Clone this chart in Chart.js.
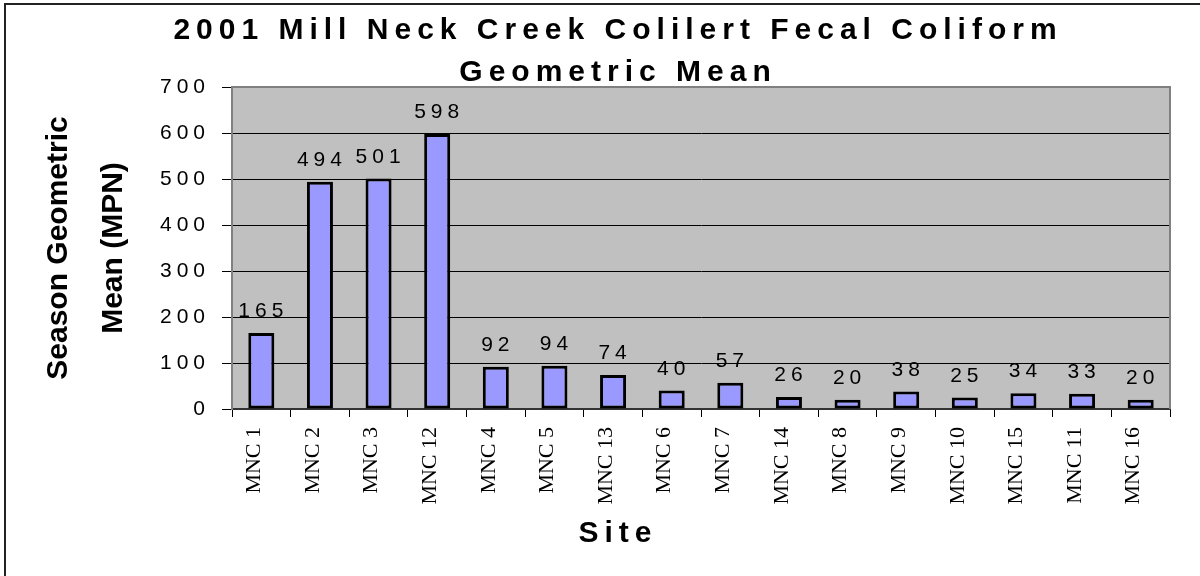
<!DOCTYPE html>
<html>
<head>
<meta charset="utf-8">
<script src="https://cdn.jsdelivr.net/npm/chart.js@4/dist/chart.umd.min.js"></script>
<style>
  html, body { margin: 0; padding: 0; background: #fff; }
  #wrap { width: 1200px; height: 576px; }
</style>
</head>
<body>
<div id="wrap"><canvas id="chart" width="1200" height="576"></canvas></div>
<script>
// values
const sites = ['MNC 1', 'MNC 2', 'MNC 3', 'MNC 12', 'MNC 4', 'MNC 5', 'MNC 13', 'MNC 6',
  'MNC 7', 'MNC 14', 'MNC 8', 'MNC 9', 'MNC 10', 'MNC 15', 'MNC 11', 'MNC 16']
const geoMean = [165, 494, 501, 598, 92, 94, 74, 40, 57, 26, 20, 38, 25, 34, 33, 20]
const titleLines = ['2001 Mill Neck Creek Colilert Fecal Coliform', 'Geometric Mean']
const yTitleLines = ['Season Geometric', 'Mean (MPN)']
const xTitle = 'Site'

const sans = 'Arial, "Liberation Sans", sans-serif'
const serif = '"Times New Roman", "Liberation Serif", serif'

// canvas letterSpacing only for the pieces that are spaced out in the original
function spaced(obj, method, ls) {
  const key = '_ls_' + method
  if (obj[key]) return
  const orig = obj[method]
  obj[method] = function(...args) {
    const c = this.ctx
    const prev = c.letterSpacing
    c.letterSpacing = ls
    const r = orig.apply(this, args)
    c.letterSpacing = prev
    return r
  }
  obj[key] = true
}

const spacingPlugin = {
  id: 'spacing',
  afterLayout(chart) {
    chart.boxes.forEach(b => {
      if (b === chart.scales.y) spaced(b, 'drawLabels', '5px')
      else if (!b.id && b.options && b.options.text) spaced(b, 'draw', '6px')
    })
  }
}

const plotArea = {
  id: 'plotArea',
  beforeDraw(chart) {
    const { ctx, chartArea: a } = chart
    ctx.save()
    ctx.fillStyle = '#C0C0C0'
    ctx.fillRect(a.left, a.top, a.right - a.left, a.bottom - a.top)
    ctx.restore()
  },
  afterDatasetsDraw(chart) {
    const { ctx, chartArea: a } = chart
    ctx.save()
    ctx.strokeStyle = '#808080'
    ctx.lineWidth = 2
    ctx.beginPath()
    ctx.moveTo(a.left, a.top)
    ctx.lineTo(a.right, a.top)
    ctx.lineTo(a.right, a.bottom)
    ctx.stroke()
    ctx.restore()
  },
  afterDraw(chart) {
    const { ctx } = chart
    ctx.save()
    ctx.strokeStyle = '#222'
    ctx.lineWidth = 2
    ctx.beginPath()
    ctx.moveTo(5, chart.height)
    ctx.lineTo(5, 4)
    ctx.lineTo(chart.width, 4)
    ctx.stroke()
    ctx.restore()
  }
}

const valueLabels = {
  id: 'valueLabels',
  afterDatasetsDraw(chart) {
    const { ctx } = chart
    const meta = chart.getDatasetMeta(0)
    ctx.save()
    ctx.font = '21px ' + sans
    ctx.fillStyle = '#000'
    ctx.textAlign = 'center'
    ctx.textBaseline = 'alphabetic'
    ctx.letterSpacing = '5px'
    meta.data.forEach((bar, i) => {
      ctx.fillText(String(geoMean[i]), bar.x + 2, bar.y - 16)
    })
    ctx.restore()
  }
}

new Chart(document.getElementById('chart'), {
  type: 'bar',
  data: {
    labels: sites,
    datasets: [{
      data: geoMean,
      backgroundColor: '#9999FF',
      borderColor: '#000',
      borderWidth: 3,
      borderSkipped: false,
      barPercentage: 0.444,
      categoryPercentage: 1
    }]
  },
  options: {
    responsive: false,
    animation: false,
    layout: { padding: { left: 36, right: 0, top: 0, bottom: 0 } },
    plugins: {
      legend: { display: false },
      tooltip: { enabled: false },
      title: {
        display: true,
        text: titleLines,
        color: '#000',
        font: { family: sans, size: 30, weight: 'bold', lineHeight: 1.4 },
        padding: { top: 10, bottom: -7 }
      },
      subtitle: {
        display: true,
        position: 'bottom',
        text: xTitle,
        color: '#000',
        font: { family: sans, size: 30, weight: 'bold', lineHeight: 1.2 },
        padding: { top: 0, bottom: 24 }
      }
    },
    scales: {
      x: {
        grid: { display: true, drawOnChartArea: false, drawTicks: true, tickLength: 8, color: '#000', lineWidth: 1 },
        border: { display: true, color: '#333', width: 2 },
        ticks: {
          color: '#000',
          font: { family: serif, size: 22 },
          minRotation: 90,
          maxRotation: 90,
          autoSkip: false,
          padding: 10,
          labelOffset: -7
        },
        afterFit(s) { s.height = 107 }
      },
      y: {
        min: 0,
        max: 700,
        grid: { color: '#000', lineWidth: 1, tickLength: 10 },
        border: { display: true, color: '#808080', width: 2 },
        ticks: { stepSize: 100, color: '#000', font: { family: sans, size: 21 }, padding: 12 },
        title: {
          display: true,
          text: yTitleLines,
          color: '#000',
          font: { family: sans, size: 30, weight: 'bold', lineHeight: 1.833 },
          padding: { top: -5, bottom: 0 }
        },
        afterFit(s) { s.width = 196 }
      },
      y2: {
        position: 'right',
        display: true,
        grid: { display: false },
        border: { display: false },
        ticks: { display: false },
        afterFit(s) { s.width = 30 }
      }
    }
  },
  plugins: [spacingPlugin, plotArea, valueLabels]
})
</script>
</body>
</html>
